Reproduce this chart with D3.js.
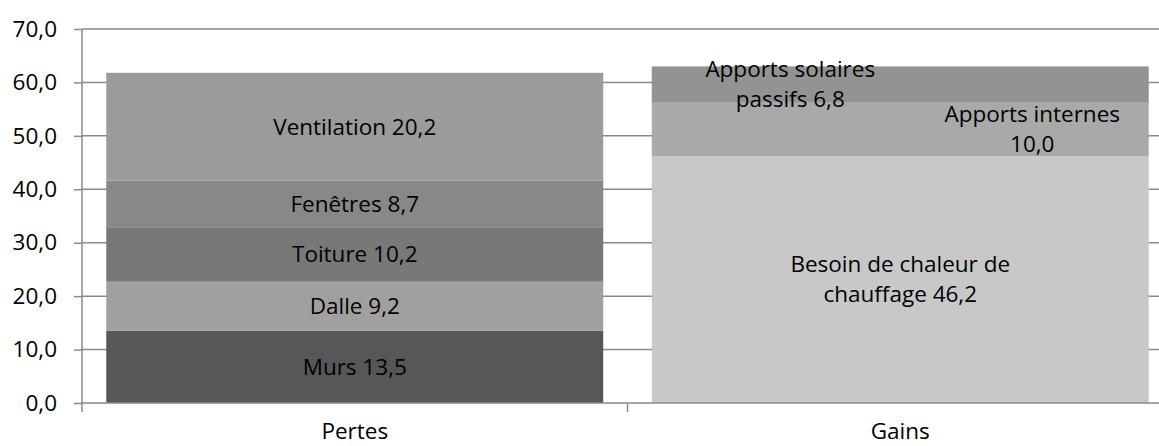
<!DOCTYPE html>
<html><head><meta charset="utf-8">
<script src="https://cdn.jsdelivr.net/npm/d3@7/dist/d3.min.js"></script>
<style>html,body{margin:0;padding:0;background:#fff;}svg{display:block;font-family:"Open Sans",sans-serif;}</style>
</head><body><svg id="c" width="1159" height="446"></svg>
<script>
const categories = ["Pertes", "Gains"];
const pertesNames = ["Murs", "Dalle", "Toiture", "Fenêtres", "Ventilation"];
const pertesValues = [13.5, 9.2, 10.2, 8.7, 20.2];
const gainsNames = ["Besoin de chaleur de|chauffage", "Apports internes|", "Apports solaires|passifs"];
const gainsValues = [46.2, 10.0, 6.8];
const yTicks = [0, 10, 20, 30, 40, 50, 60, 70];

const pertesColors = ["#575757", "#a0a0a0", "#787878", "#888888", "#9b9b9b"];
const gainsColors = ["#c8c8c8", "#a9a9a9", "#939393"];
const gainsLabelDx = [0, 132, -110];

const svg = d3.select("#c");
const fs = 22.5;
const y = d3.scaleLinear().domain([0, 70]).range([403, 29]);
const x = d3.scaleBand().domain(categories).range([82, 1173]).paddingInner(0.089).paddingOuter(0.0445);
const fmt = v => v.toFixed(1).replace(".", ",");

svg.append("g").selectAll("line").data(yTicks.filter(t => t > 0)).join("line")
  .attr("x1", 82).attr("x2", 1173).attr("y1", d => y(d)).attr("y2", d => y(d))
  .attr("stroke", "#8a8a8a").attr("stroke-width", 1.5);

function stackOf(names, values, colors, cat, dxs) {
  let acc = 0;
  return values.map((v, i) => { const o = {name: names[i], v, y0: acc, y1: acc + v, color: colors[i], cat, dx: dxs ? dxs[i] : 0}; acc += v; return o; });
}
const segs = stackOf(pertesNames, pertesValues, pertesColors, "Pertes")
  .concat(stackOf(gainsNames, gainsValues, gainsColors, "Gains", gainsLabelDx));

svg.append("g").selectAll("rect").data(segs).join("rect")
  .attr("x", d => x(d.cat)).attr("width", x.bandwidth())
  .attr("y", d => y(d.y1)).attr("height", d => y(d.y0) - y(d.y1))
  .attr("fill", d => d.color);

const yAxis = d3.axisLeft(y).tickValues(yTicks).tickFormat(fmt).tickSize(8).tickPadding(17);
const gy = svg.append("g").attr("transform", "translate(82,0)").call(yAxis);
gy.select(".domain").attr("d", "M0,29V412").attr("stroke", "#8a8a8a").attr("stroke-width", 1.5);
gy.selectAll(".tick line").attr("stroke", "#8a8a8a").attr("stroke-width", 1.5);
gy.selectAll(".tick text").attr("font-size", fs).attr("font-family", "Open Sans").attr("fill", "#000");

const gx = svg.append("g").attr("transform", "translate(0,403)");
gx.append("line").attr("x1", 82).attr("x2", 1173).attr("stroke", "#8a8a8a").attr("stroke-width", 1.5);
gx.selectAll("line.tk").data(categories.slice(1)).join("line").attr("class", "tk")
  .attr("x1", d => x(d) - x.step() * x.paddingInner() / 2).attr("x2", d => x(d) - x.step() * x.paddingInner() / 2)
  .attr("y1", 0).attr("y2", 9).attr("stroke", "#8a8a8a").attr("stroke-width", 1.5);
gx.selectAll("text").data(categories).join("text")
  .attr("x", d => x(d) + x.bandwidth() / 2).attr("y", 36)
  .attr("text-anchor", "middle").attr("font-size", fs).attr("fill", "#000").text(d => d);

const lh = 30;
const lab = svg.append("g").attr("font-size", fs).attr("fill", "#000").attr("text-anchor", "middle");
segs.forEach(d => {
  const parts = d.name.split("|");
  let lines;
  if (parts.length === 1) lines = [parts[0] + " " + fmt(d.v)];
  else lines = [parts[0], (parts[1] ? parts[1] + " " : "") + fmt(d.v)];
  const cx = x(d.cat) + x.bandwidth() / 2 + d.dx;
  const cy = y((d.y0 + d.y1) / 2);
  const t = lab.append("text");
  lines.forEach((ln, i) => {
    t.append("tspan").attr("x", cx).attr("y", cy + (i - (lines.length - 1) / 2) * lh).attr("dy", "0.35em").text(ln);
  });
});
</script></body></html>
